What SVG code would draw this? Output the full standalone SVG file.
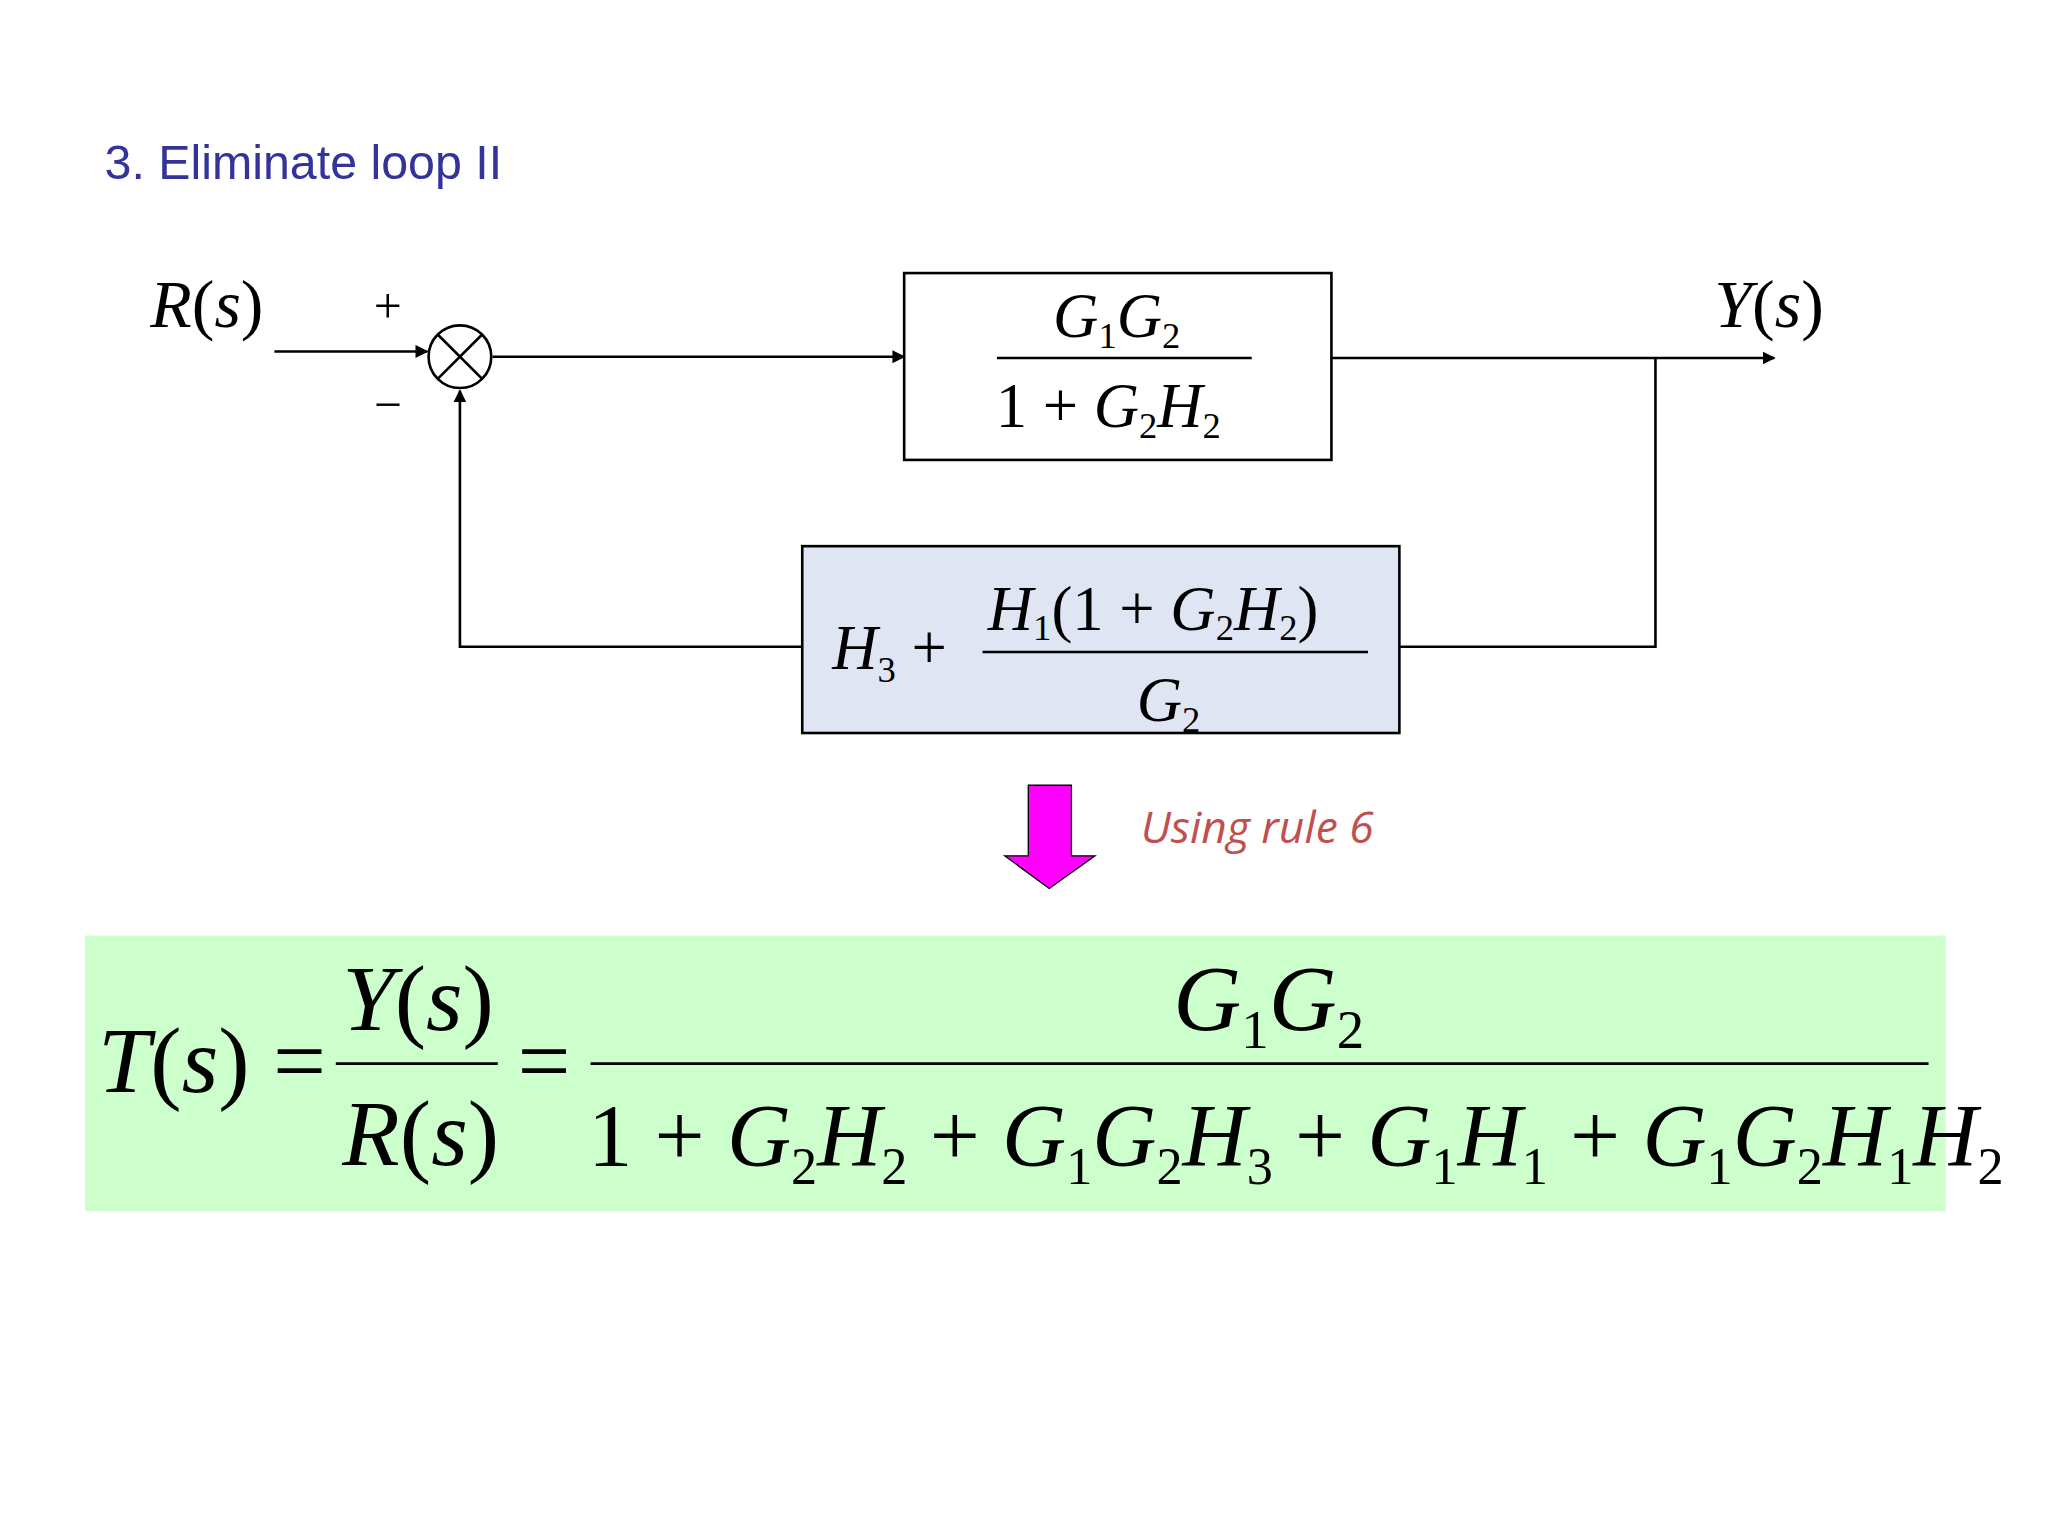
<svg xmlns="http://www.w3.org/2000/svg" width="2048" height="1536" viewBox="0 0 2048 1536">
<style>
.m{font-family:"Liberation Serif","Times New Roman",serif;font-style:italic;fill:#000}
.n{font-style:normal}
.l{stroke:#000;stroke-width:2;fill:none}
</style>
<defs><marker id="a" markerWidth="10" markerHeight="10" refX="9" refY="5" orient="auto" markerUnits="userSpaceOnUse"><path d="M0,0 L10,5 L0,10 z" fill="#000"/></marker></defs>
<rect width="2048" height="1536" fill="#fff"/>
<g transform="scale(1.3066)">
<text x="80" y="137" font-family="Liberation Sans,Arial,sans-serif" font-size="37" fill="#333399">3. Eliminate loop II</text>
<g id="connectors">
<line class="l" x1="210" y1="269" x2="327" y2="269" marker-end="url(#a)"/>
<line class="l" x1="377" y1="273" x2="692" y2="273" marker-end="url(#a)"/>
<line class="l" x1="1019" y1="274" x2="1358" y2="274" marker-end="url(#a)"/>
<polyline class="l" points="1267,274 1267,495 1071,495"/>
<polyline class="l" points="614,495 352,495 352,299" marker-end="url(#a)"/>
</g>
<g id="labels">
<text class="m" x="115" y="250" font-size="52">R<tspan class="n">(</tspan>s<tspan class="n">)</tspan></text>
<text class="m" x="1312" y="250" font-size="52">Y<tspan class="n">(</tspan>s<tspan class="n">)</tspan></text>
<text class="m n" x="286" y="247" font-size="38">+</text>
<text class="m n" x="286" y="322" font-size="38">−</text>
</g>
<g id="sum"><circle cx="352" cy="273" r="24" fill="#fff" stroke="#000" stroke-width="2"/><path class="l" d="M335,256 L369,290 M369,256 L335,290"/></g>
<g id="forward">
<rect x="692" y="209" width="327" height="143" fill="#fff" stroke="#000" stroke-width="2"/>
<text class="m" x="806" y="258" font-size="48">G<tspan font-size="28" dy="8" class="n">1</tspan><tspan dy="-8">G</tspan><tspan font-size="28" dy="8" class="n">2</tspan></text>
<line class="l" x1="763" y1="274" x2="958" y2="274"/>
<text class="m" x="762" y="327" font-size="48"><tspan class="n">1 + </tspan>G<tspan font-size="28" dy="8" class="n">2</tspan><tspan dy="-8">H</tspan><tspan font-size="28" dy="8" class="n">2</tspan></text>
</g>
<g id="feedback">
<rect x="614" y="418" width="457" height="143" fill="#dfe5f3" stroke="#000" stroke-width="2"/>
<text class="m" x="637" y="512" font-size="48">H<tspan font-size="28" dy="10" class="n">3</tspan><tspan dy="-10" class="n"> +</tspan></text>
<text class="m" x="756" y="482" font-size="48">H<tspan font-size="28" dy="8" class="n">1</tspan><tspan dy="-8" class="n">(1 + </tspan>G<tspan font-size="28" dy="8" class="n">2</tspan><tspan dy="-8">H</tspan><tspan font-size="28" dy="8" class="n">2</tspan><tspan dy="-8" class="n">)</tspan></text>
<line class="l" x1="752" y1="499" x2="1047" y2="499"/>
<text class="m" x="870" y="552" font-size="48">G<tspan font-size="28" dy="8" class="n">2</tspan></text>
</g>
<g id="rule">
<path d="M787,601 H820 V655 H838 L803,680 L769,655 H787 Z" fill="#ff00ff" stroke="#000" stroke-width="1"/>
<text x="873" y="645" font-family="Open Sans,Liberation Sans,sans-serif" font-style="italic" font-size="34" fill="#c0504d">Using rule 6</text>
</g>
<g id="result">
<rect x="65" y="716" width="1424" height="211" fill="#ccffcc"/>
<text class="m" x="75" y="836" font-size="72">T<tspan class="n">(</tspan>s<tspan class="n">) =</tspan></text>
<text class="m" x="262" y="788" font-size="72">Y<tspan class="n">(</tspan>s<tspan class="n">)</tspan></text>
<line class="l" x1="257" y1="814" x2="381" y2="814" stroke-width="3"/>
<text class="m" x="262" y="892" font-size="72">R<tspan class="n">(</tspan>s<tspan class="n">)</tspan></text>
<text class="m n" x="396" y="836" font-size="72">=</text>
<text class="m" x="898" y="788" font-size="72">G<tspan font-size="42" dy="14" class="n">1</tspan><tspan dy="-14">G</tspan><tspan font-size="42" dy="14" class="n">2</tspan></text>
<line class="l" x1="452" y1="814" x2="1476" y2="814" stroke-width="3"/>
<text class="m" x="450" y="892" font-size="68"><tspan class="n">1 + </tspan>G<tspan font-size="40" dy="14" class="n">2</tspan><tspan dy="-14">H</tspan><tspan font-size="40" dy="14" class="n">2</tspan><tspan dy="-14" class="n"> + </tspan>G<tspan font-size="40" dy="14" class="n">1</tspan><tspan dy="-14">G</tspan><tspan font-size="40" dy="14" class="n">2</tspan><tspan dy="-14">H</tspan><tspan font-size="40" dy="14" class="n">3</tspan><tspan dy="-14" class="n"> + </tspan>G<tspan font-size="40" dy="14" class="n">1</tspan><tspan dy="-14">H</tspan><tspan font-size="40" dy="14" class="n">1</tspan><tspan dy="-14" class="n"> + </tspan>G<tspan font-size="40" dy="14" class="n">1</tspan><tspan dy="-14">G</tspan><tspan font-size="40" dy="14" class="n">2</tspan><tspan dy="-14">H</tspan><tspan font-size="40" dy="14" class="n">1</tspan><tspan dy="-14">H</tspan><tspan font-size="40" dy="14" class="n">2</tspan></text>
</g>
</g>
</svg>
